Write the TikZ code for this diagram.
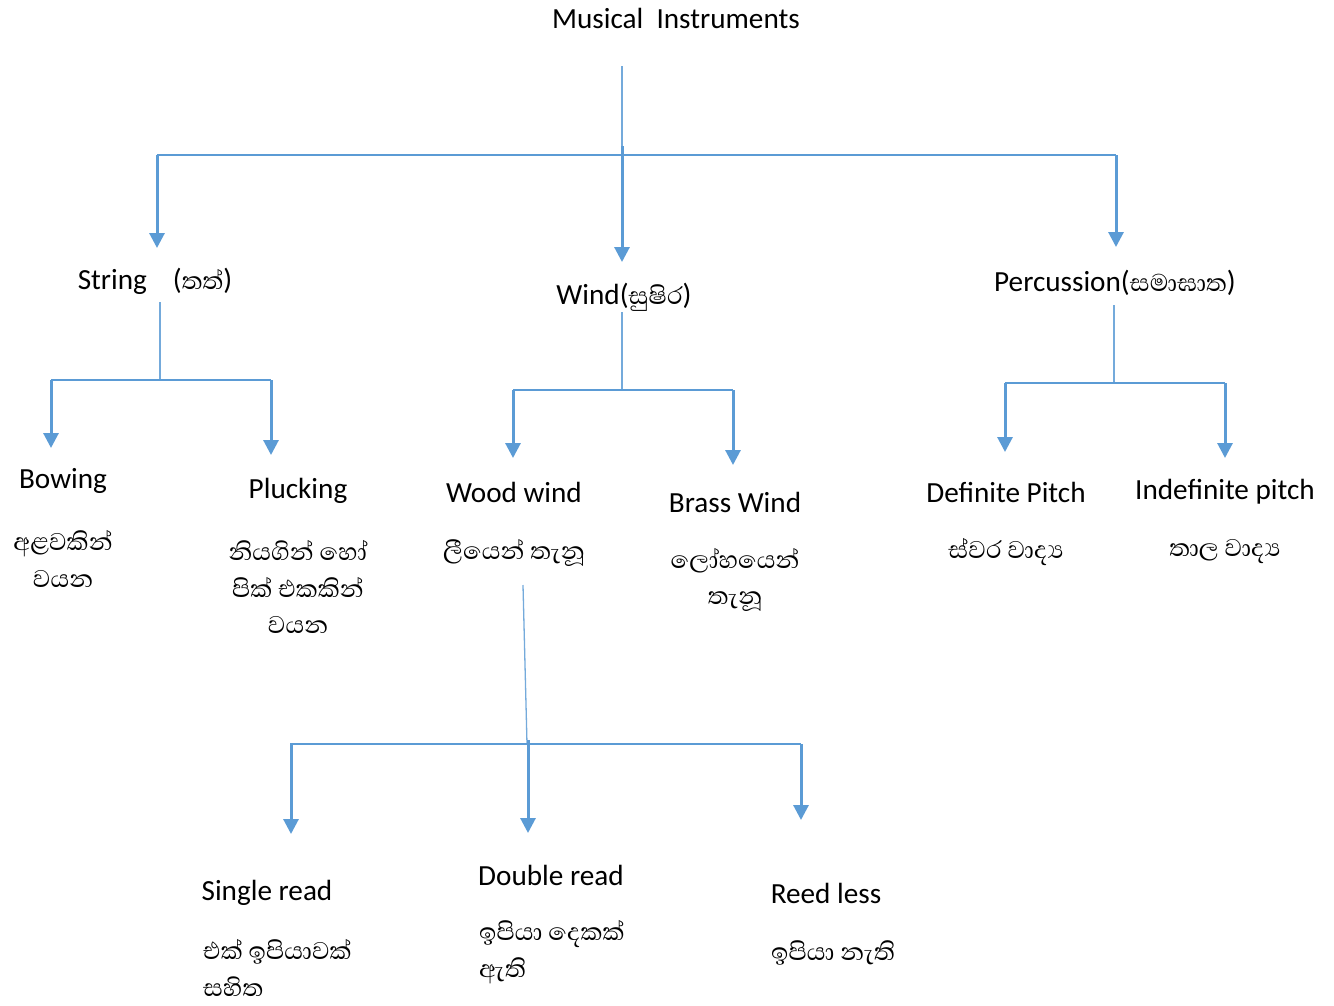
\documentclass[tikz,border=0pt]{standalone}
\usepackage{fontspec}
\setmainfont{Carlito}
\newfontfamily\sinfont[Script=Sinhala]{Abhaya Libre}
\usepackage{xcolor}
\usetikzlibrary{arrows.meta}
\definecolor{linkblue}{RGB}{91,155,213}
\tikzset{edge/.style = {-{Triangle[width=15pt,length=15pt]}, line width=3pt, linkblue}}
\tikzset{rail/.style = {line width=2pt, linkblue}}
\tikzset{stem/.style = {line width=1.3pt, linkblue!85}}
\newcommand{\sinpart}[1]{{\fontsize{31}{35}\sinfont #1}}

\begin{document}
\begin{tikzpicture}[x=1pt,y=-1pt,inner sep=0pt,main node/.style={font=\fontsize{29.2}{35}\selectfont},sin node/.style={font=\fontsize{31}{36.5}\sinfont,align=center}]
                \useasboundingbox (0,0) rectangle (1334,1005);

                \node[main node] (1) at (676,18) {Musical\ \ Instruments};
                \node[main node] (2) at (155,281) {String\hspace{26pt}(\sinpart{තත්})};
                \node[main node] (3) at (624,297) {Wind(\sinpart{සුෂිර})};
                \node[main node] (4) at (1115,283) {Percussion(\sinpart{සමාඝාත})};

                \node[main node] (5) at (63,481) {Bowing};
                \node[sin node] (5s) at (63,559) {අළවකින්\\වයන};
                \node[main node] (6) at (298,491) {Plucking};
                \node[sin node] (6s) at (298,587) {නියගින් හෝ\\පික් එකකින්\\වයන};
                \node[main node] (7) at (514,492) {Wood wind};
                \node[sin node] (7s) at (514,553) {ලීයෙන් තැනූ};
                \node[main node] (8) at (735,502) {Brass Wind};
                \node[sin node] (8s) at (735,580) {ලෝහයෙන්\\තැනූ};
                \node[main node] (9) at (1006,492) {Definite Pitch};
                \node[sin node] (9s) at (1006,552) {ස්වර වාද්^^^^200dය};
                \node[main node] (10) at (1225,492) {Indefinite pitch};
                \node[sin node] (10s) at (1225,552) {තාල වාද්^^^^200dය};

                \node[main node] (11) at (267,893) {Single read};
                \node[sin node, align=left, anchor=west] (11s) at (203,968) {එක් ඉපියාවක්\\සහිත};
                \node[main node] (12) at (551,875) {Double read};
                \node[sin node, align=left, anchor=west] (12s) at (479,952) {ඉපියා දෙකක්\\ඇති};
                \node[main node] (13) at (826,893) {Reed less};
                \node[sin node, align=left, anchor=west] (13s) at (771,953) {ඉපියා නැති};

                % top level
                \coordinate (1a) at (622,66);
                \coordinate (1b) at (622,155);
                \coordinate (1l) at (157,155);
                \coordinate (1r) at (1116,155);
                \draw[stem] (1a) -- (1b);
                \draw[rail] (1l) -- (1r);
                \draw[edge] (1l) -- (157,248) coordinate (2t);
                \draw[edge] (622,146) coordinate (1c) -- (622,262) coordinate (3t);
                \draw[edge] (1r) -- (1116,247) coordinate (4t);

                % string
                \coordinate (2a) at (160,302);
                \coordinate (2b) at (160,380);
                \draw[stem] (2a) -- (2b);
                \draw[rail] (51,380) coordinate (2l) -- (271,380) coordinate (2r);
                \draw[edge] (2l) -- (51,448) coordinate (5t);
                \draw[edge] (2r) -- (271,455) coordinate (6t);

                % wind
                \coordinate (3a) at (622,312);
                \coordinate (3b) at (622,390);
                \draw[stem] (3a) -- (3b);
                \draw[rail] (513,390) coordinate (3l) -- (733,390) coordinate (3r);
                \draw[edge] (3l) -- (513,458) coordinate (7t);
                \draw[edge] (3r) -- (733,465) coordinate (8t);

                % percussion
                \coordinate (4a) at (1114,305);
                \coordinate (4b) at (1114,383);
                \draw[stem] (4a) -- (4b);
                \draw[rail] (1005,383) coordinate (4l) -- (1225,383) coordinate (4r);
                \draw[edge] (4l) -- (1005,452) coordinate (9t);
                \draw[edge] (4r) -- (1225,458) coordinate (10t);

                % wood wind
                \coordinate (7a) at (523,585);
                \coordinate (7b) at (527,744);
                \draw[stem] (7a) -- (7b);
                \draw[rail] (290,744) coordinate (7l) -- (801,744) coordinate (7r);
                \draw[edge] (291,744) -- (291,834) coordinate (11t);
                \draw[edge] (528,740) -- (528,833) coordinate (12t);
                \draw[edge] (7r) -- (801,820) coordinate (13t);
            \end{tikzpicture}
\end{document}
